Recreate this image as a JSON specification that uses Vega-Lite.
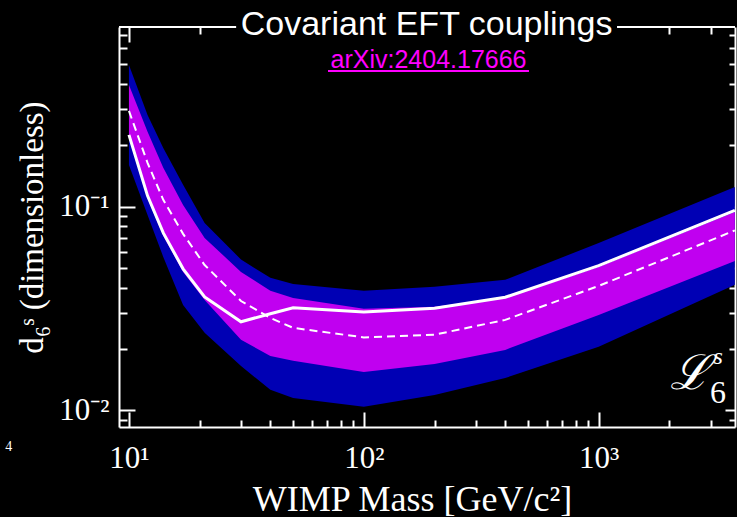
{
  "$schema": "https://vega.github.io/schema/vega-lite/v6.json",
  "width": 616,
  "height": 400,
  "autosize": {"type": "none"},
  "padding": {"left": 119, "top": 27, "right": 2, "bottom": 90},
  "background": "black",
  "config": {
    "view": {"stroke": null},
    "axis": {"grid": false, "domainColor": "white", "tickColor": "white", "labelColor": "white", "titleColor": "white", "domainWidth": 2, "tickWidth": 2, "labelFont": "Liberation Serif", "titleFont": "Liberation Serif", "titleFontWeight": "normal", "labelFontWeight": "normal", "zindex": 1}
  },
  "data": {
    "values": [
      {"mass": 10, "hi2": 0.496, "hi1": 0.396, "exp": 0.295, "obs": 0.225, "lo1": 0.2175, "lo2": 0.160},
      {"mass": 12, "hi2": 0.282, "hi1": 0.233, "exp": 0.164, "obs": 0.113, "lo1": 0.110, "lo2": 0.091},
      {"mass": 14, "hi2": 0.194, "hi1": 0.155, "exp": 0.108, "obs": 0.0743, "lo1": 0.0718, "lo2": 0.0566},
      {"mass": 17, "hi2": 0.128, "hi1": 0.102, "exp": 0.0735, "obs": 0.0495, "lo1": 0.0478, "lo2": 0.0329},
      {"mass": 21, "hi2": 0.083, "hi1": 0.0702, "exp": 0.0517, "obs": 0.036, "lo1": 0.0348, "lo2": 0.024},
      {"mass": 30, "hi2": 0.055, "hi1": 0.0478, "exp": 0.0344, "obs": 0.0272, "lo1": 0.0222, "lo2": 0.0165},
      {"mass": 40, "hi2": 0.0447, "hi1": 0.0386, "exp": 0.0284, "obs": 0.0298, "lo1": 0.0185, "lo2": 0.0126},
      {"mass": 50, "hi2": 0.0417, "hi1": 0.0356, "exp": 0.0254, "obs": 0.0319, "lo1": 0.0175, "lo2": 0.0115},
      {"mass": 100, "hi2": 0.0386, "hi1": 0.0315, "exp": 0.0228, "obs": 0.0304, "lo1": 0.0154, "lo2": 0.0104},
      {"mass": 200, "hi2": 0.0404, "hi1": 0.0322, "exp": 0.0235, "obs": 0.0317, "lo1": 0.0169, "lo2": 0.0119},
      {"mass": 400, "hi2": 0.0437, "hi1": 0.0356, "exp": 0.0278, "obs": 0.0359, "lo1": 0.0198, "lo2": 0.0144},
      {"mass": 1000, "hi2": 0.0663, "hi1": 0.0506, "exp": 0.0408, "obs": 0.0513, "lo1": 0.0294, "lo2": 0.0205},
      {"mass": 3800, "hi2": 0.125, "hi1": 0.0942, "exp": 0.0764, "obs": 0.0958, "lo1": 0.0541, "lo2": 0.0413}
    ]
  },
  "layer": [
    {
      "mark": {"type": "area", "color": "#0000b4"},
      "encoding": {
        "x": {"field": "mass", "type": "quantitative", "scale": {"type": "log", "domain": [9.07, 3806], "nice": false},
          "axis": {"orient": "bottom", "values": [10, 100, 1000], "tickSize": -15, "labelPadding": 31, "labelBaseline": "top", "labelExpr": "datum.value == 10 ? '10¹' : datum.value == 100 ? '10²' : '10³'", "labelFontSize": 31, "labelFlush": false, "labelOverlap": false, "title": "WIMP Mass [GeV/c²]", "titleFontSize": 36, "titleX": 293, "titleY": 83, "titleBaseline": "alphabetic", "domain": true}},
        "y": {"field": "lo2", "type": "quantitative", "scale": {"type": "log", "domain": [0.00828, 0.762], "nice": false},
          "axis": {"orient": "left", "values": [0.01, 0.1], "tickSize": -16, "labelPadding": 26, "labelBaseline": "middle", "labelExpr": "datum.value < 0.05 ? '10⁻²' : '10⁻¹'", "labelFontSize": 31, "labelFlush": false, "labelOverlap": false, "title": "d₆ˢ (dimensionless)", "titleFontSize": 33, "titleX": -77, "titleY": 200, "titleBaseline": "alphabetic", "domain": true}},
        "y2": {"field": "hi2"}
      }
    },
    {
      "mark": {"type": "area", "color": "#c000f0"},
      "encoding": {
        "x": {"field": "mass", "type": "quantitative", "axis": null},
        "y": {"field": "lo1", "type": "quantitative", "axis": null},
        "y2": {"field": "hi1"}
      }
    },
    {
      "mark": {"type": "line", "color": "white", "strokeWidth": 3},
      "encoding": {
        "x": {"field": "mass", "type": "quantitative", "axis": null},
        "y": {"field": "obs", "type": "quantitative", "axis": null}
      }
    },
    {
      "mark": {"type": "line", "color": "white", "strokeWidth": 2, "strokeDash": [8, 5]},
      "encoding": {
        "x": {"field": "mass", "type": "quantitative", "axis": null},
        "y": {"field": "exp", "type": "quantitative", "axis": null}
      }
    },
    {
      "mark": {"type": "point", "opacity": 0},
      "encoding": {
        "x": {"field": "mass", "type": "quantitative",
          "axis": {"orient": "bottom", "values": [20, 30, 40, 50, 60, 70, 80, 90, 200, 300, 400, 500, 600, 700, 800, 900, 2000, 3000], "tickSize": -7, "labels": false, "domain": false, "title": null}},
        "y": {"field": "obs", "type": "quantitative",
          "axis": {"orient": "left", "values": [0.009, 0.02, 0.03, 0.04, 0.05, 0.06, 0.07, 0.08, 0.09, 0.2, 0.3, 0.4, 0.5, 0.6, 0.7], "tickSize": -8, "labels": false, "domain": false, "title": null}}
      }
    },
    {
      "mark": {"type": "point", "opacity": 0},
      "encoding": {
        "x": {"field": "mass", "type": "quantitative",
          "axis": {"orient": "top", "values": [10], "tickSize": -15, "labels": false, "domain": false, "title": null}},
        "y": {"field": "obs", "type": "quantitative",
          "axis": {"orient": "right", "values": [0.01, 0.1], "tickSize": -10, "labels": false, "domain": true, "title": null}}
      }
    },
    {
      "mark": {"type": "point", "opacity": 0},
      "encoding": {
        "x": {"field": "mass", "type": "quantitative",
          "axis": {"orient": "top", "values": [20, 2000, 3000], "tickSize": -7, "labels": false, "domain": false, "title": null}},
        "y": {"field": "obs", "type": "quantitative",
          "axis": {"orient": "right", "values": [0.009, 0.02, 0.03, 0.04, 0.05, 0.06, 0.07, 0.08, 0.09, 0.2, 0.3, 0.4, 0.5, 0.6, 0.7], "tickSize": -6, "labels": false, "domain": false, "title": null}}
      }
    },
    {
      "data": {"values": [{}]},
      "mark": {"type": "rule", "color": "white", "strokeWidth": 2},
      "encoding": {
        "x": {"datum": 9.07, "type": "quantitative", "axis": null},
        "x2": {"datum": 28.6},
        "y": {"datum": 0.762, "type": "quantitative", "axis": null}
      }
    },
    {
      "data": {"values": [{}]},
      "mark": {"type": "rule", "color": "white", "strokeWidth": 2},
      "encoding": {
        "x": {"datum": 1197, "type": "quantitative", "axis": null},
        "x2": {"datum": 3806},
        "y": {"datum": 0.762, "type": "quantitative", "axis": null}
      }
    },
    {
      "data": {"values": [{}]},
      "mark": {"type": "text", "fill": "white", "font": "Liberation Sans", "fontSize": 34, "align": "center", "baseline": "alphabetic"},
      "encoding": {
        "x": {"datum": 185, "type": "quantitative", "axis": null},
        "y": {"datum": 0.6966, "type": "quantitative", "axis": null},
        "text": {"value": "Covariant EFT couplings"}
      }
    },
    {
      "data": {"values": [{}]},
      "mark": {"type": "text", "fill": "#ff00ff", "font": "Liberation Sans", "fontSize": 25, "align": "center", "baseline": "alphabetic"},
      "encoding": {
        "x": {"datum": 188.6, "type": "quantitative", "axis": null},
        "y": {"datum": 0.4779, "type": "quantitative", "axis": null},
        "text": {"value": "arXiv:2404.17666"}
      }
    },
    {
      "data": {"values": [{}]},
      "mark": {"type": "rule", "color": "#ff00ff", "strokeWidth": 2},
      "encoding": {
        "x": {"datum": 70.4, "type": "quantitative", "axis": null},
        "x2": {"datum": 505},
        "y": {"datum": 0.4636, "type": "quantitative", "axis": null}
      }
    },
    {
      "data": {"values": [{}]},
      "mark": {"type": "text", "fill": "white", "font": "DejaVu Serif", "fontSize": 48, "fontStyle": "italic", "align": "center", "baseline": "middle"},
      "encoding": {
        "x": {"datum": 2450, "type": "quantitative", "axis": null},
        "y": {"datum": 0.0149, "type": "quantitative", "axis": null},
        "text": {"value": "ℒ"}
      }
    },
    {
      "data": {"values": [{}]},
      "mark": {"type": "text", "fill": "white", "font": "Liberation Serif", "fontSize": 24, "fontStyle": "italic", "align": "center", "baseline": "middle"},
      "encoding": {
        "x": {"datum": 3225, "type": "quantitative", "axis": null},
        "y": {"datum": 0.01829, "type": "quantitative", "axis": null},
        "text": {"value": "s"}
      }
    },
    {
      "data": {"values": [{}]},
      "mark": {"type": "text", "fill": "white", "font": "Liberation Serif", "fontSize": 32, "align": "center", "baseline": "middle"},
      "encoding": {
        "x": {"datum": 3225, "type": "quantitative", "axis": null},
        "y": {"datum": 0.01217, "type": "quantitative", "axis": null},
        "text": {"value": "6"}
      }
    },
    {
      "data": {"values": [{}]},
      "mark": {"type": "text", "fill": "white", "font": "Liberation Serif", "fontSize": 14, "align": "left", "baseline": "middle", "clip": false},
      "encoding": {
        "x": {"datum": 2.97, "type": "quantitative", "axis": null},
        "y": {"datum": 0.0066, "type": "quantitative", "axis": null},
        "text": {"value": "4"}
      }
    }
  ],
  "resolve": {"axis": {"x": "independent", "y": "independent"}}
}
